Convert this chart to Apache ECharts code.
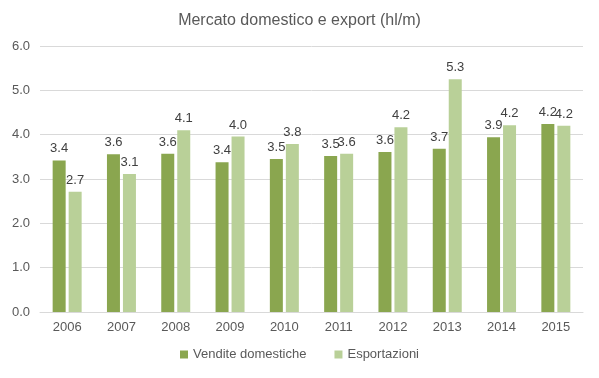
<!DOCTYPE html>
<html><head><meta charset="utf-8">
<script src="https://cdn.jsdelivr.net/npm/echarts@6/dist/echarts.min.js"></script>
<style>html,body{margin:0;padding:0;background:#fff}#c{width:599px;height:378px}</style>
</head><body><div id="c"></div>
<script>
const categories = ['2006','2007','2008','2009','2010','2011','2012','2013','2014','2015'];
const domestic = [3.42, 3.56, 3.57, 3.38, 3.45, 3.52, 3.61, 3.68, 3.94, 4.24];
const exportVals = [2.71, 3.11, 4.10, 3.96, 3.79, 3.57, 4.17, 5.25, 4.21, 4.20];
const seriesNames = ['Vendite domestiche', 'Esportazioni'];
const titleText = 'Mercato domestico e export (hl/m)';

const chart = echarts.init(document.getElementById('c'));
const lbl = {show:true, position:'top', distance:5, color:'#404040', fontSize:13, fontFamily:'Liberation Sans, Arial', formatter: p => p.value.toFixed(1)};
chart.setOption({
  animation:false,
  title:{text:titleText, left:'center', top:8, textStyle:{fontSize:16, fontWeight:'normal', color:'#595959', fontFamily:'Liberation Sans Narrow, Liberation Sans, Arial'}},
  grid:{left:40, right:16, top:46, bottom:66},
  legend:{bottom:12, itemWidth:8, itemHeight:8, itemGap:28, icon:'rect', textStyle:{color:'#595959', fontSize:13, fontFamily:'Liberation Sans, Arial'}, data:seriesNames},
  xAxis:{type:'category', data:categories, axisTick:{show:false}, axisLine:{lineStyle:{color:'#d9d9d9'}}, axisLabel:{color:'#595959', fontSize:13, margin:9, fontFamily:'Liberation Sans, Arial'}},
  yAxis:{type:'value', min:0, max:6, interval:1, axisLabel:{color:'#595959', fontSize:13, margin:10, formatter: v => v.toFixed(1), fontFamily:'Liberation Sans, Arial'}, splitLine:{lineStyle:{color:'#d9d9d9'}}},
  series:[
    {name:seriesNames[0], type:'bar', data:domestic, barWidth:13, barGap:'23%', itemStyle:{color:'#8aa64f'}, label:lbl},
    {name:seriesNames[1], type:'bar', data:exportVals, barWidth:13, itemStyle:{color:'#b9d098'}, label:lbl}
  ]
});
</script></body></html>
